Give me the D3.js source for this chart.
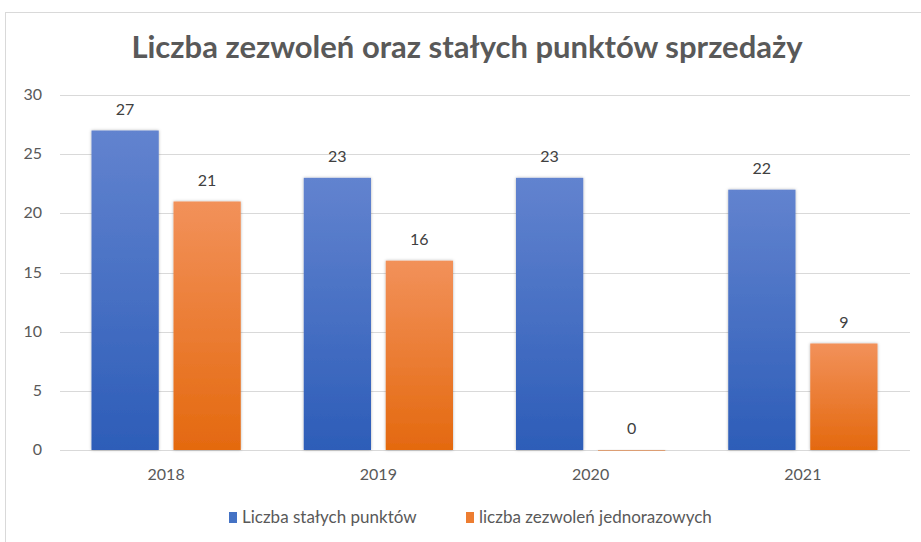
<!DOCTYPE html>
<html>
<head>
<meta charset="utf-8">
<script src="https://cdn.jsdelivr.net/npm/d3@7"></script>
<style>
  body { margin: 0; background: #fff; }
  text { font-family: Lato, "Open Sans", sans-serif; }
</style>
</head>
<body>
<div id="chart"></div>
<script>
// dane wykresu
const years = ['2018', '2019', '2020', '2021'];
const stalePunkty = [27, 23, 23, 22];
const jednorazowe = [21, 16, 0, 9];
const seriesNames = ['Liczba stałych punktów', 'liczba zezwoleń jednorazowych'];
const yTicks = [0, 5, 10, 15, 20, 25, 30];

const width = 921, height = 542;

const svg = d3.select('#chart').append('svg')
    .attr('width', width)
    .attr('height', height);

// gradienty i cień
const defs = svg.append('defs');
const grads = [
    { id: 'gBlue', top: '#6283cf', bottom: '#2d5db8' },
    { id: 'gOrange', top: '#f2915a', bottom: '#e4690f' }
];
grads.forEach(g => {
    const lg = defs.append('linearGradient').attr('id', g.id)
        .attr('x1', 0).attr('y1', 0).attr('x2', 0).attr('y2', 1);
    lg.append('stop').attr('offset', '0%').attr('stop-color', g.top);
    lg.append('stop').attr('offset', '100%').attr('stop-color', g.bottom);
});
const f = defs.append('filter').attr('id', 'shadow')
    .attr('x', '-20%').attr('y', '-20%').attr('width', '140%').attr('height', '140%');
f.append('feDropShadow').attr('dx', 0).attr('dy', 0).attr('stdDeviation', 1.8)
    .attr('flood-color', '#000').attr('flood-opacity', 0.3);

// ramka
svg.append('rect')
    .attr('x', 5.5).attr('y', 12.5)
    .attr('width', 940).attr('height', 560)
    .attr('fill', 'none').attr('stroke', '#d9d9d9');

// tytuł
svg.append('text')
    .attr('x', 467).attr('y', 58)
    .attr('text-anchor', 'middle')
    .attr('font-size', 31)
    .attr('font-weight', 'bold')
    .attr('fill', '#595959')
    .text('Liczba zezwoleń oraz stałych punktów sprzedaży');

// skale
const x0 = d3.scaleBand().domain(years).range([60, 909]).paddingInner(0).paddingOuter(0);
const x1 = d3.scaleBand().domain([0, 1]).range([31.5, x0.bandwidth() - 31.5]).paddingInner(0.18);
const y = d3.scaleLinear().domain([0, 30]).range([450, 95]);

// siatka
svg.append('g').selectAll('line')
    .data(yTicks)
    .join('line')
    .attr('x1', 60).attr('x2', 910)
    .attr('y1', d => Math.round(y(d)) + 0.5)
    .attr('y2', d => Math.round(y(d)) + 0.5)
    .attr('stroke', '#d9d9d9');

// oś Y
svg.append('g').selectAll('text')
    .data(yTicks)
    .join('text')
    .attr('x', 42).attr('y', d => y(d) + 5)
    .attr('text-anchor', 'end')
    .attr('font-size', 16)
    .attr('fill', '#595959')
    .text(d => d);

// oś X
svg.append('g').selectAll('text')
    .data(years)
    .join('text')
    .attr('x', d => x0(d) + x0.bandwidth() / 2)
    .attr('y', 480)
    .attr('text-anchor', 'middle')
    .attr('font-size', 16)
    .attr('fill', '#595959')
    .text(d => d);

// słupki
const rows = years.map((yr, i) => ({ year: yr, vals: [stalePunkty[i], jednorazowe[i]] }));
const groups = svg.append('g').selectAll('g')
    .data(rows)
    .join('g')
    .attr('transform', d => `translate(${x0(d.year)},0)`);

groups.selectAll('rect')
    .data(d => d.vals.map((v, k) => ({ v, k })))
    .join('rect')
    .attr('x', d => x1(d.k))
    .attr('width', x1.bandwidth())
    .attr('y', d => y(d.v))
    .attr('height', d => Math.max(0.5, y(0) - y(d.v)))
    .attr('fill', d => d.k === 0 ? 'url(#gBlue)' : 'url(#gOrange)')
    .attr('filter', 'url(#shadow)');

groups.selectAll('text')
    .data(d => d.vals.map((v, k) => ({ v, k })))
    .join('text')
    .attr('x', d => x1(d.k) + x1.bandwidth() / 2)
    .attr('y', d => y(d.v) - 16)
    .attr('text-anchor', 'middle')
    .attr('font-size', 16)
    .attr('fill', '#404040')
    .text(d => d.v);

// legenda
const legendX = [229, 466];
const legend = svg.append('g').selectAll('g')
    .data(seriesNames)
    .join('g')
    .attr('transform', (d, i) => `translate(${legendX[i]},512)`);
legend.append('rect')
    .attr('width', 8).attr('height', 11)
    .attr('fill', (d, i) => i === 0 ? '#4472c4' : '#ed7d31');
legend.append('text')
    .attr('x', 13).attr('y', 11)
    .attr('font-size', 17)
    .attr('fill', '#595959')
    .text(d => d);
</script>
</body>
</html>
